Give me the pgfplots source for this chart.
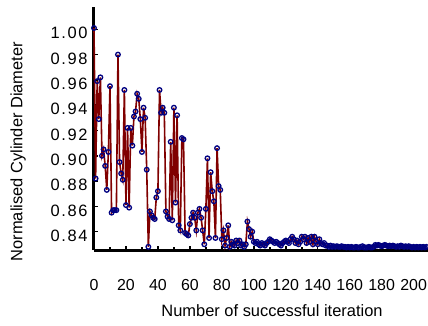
\documentclass[border=0pt]{standalone}
\usepackage{fontspec}
\setmainfont{Liberation Sans}
\usepackage{pgfplots}
\usepackage{pgfplotstable}
\pgfplotsset{compat=1.18}
\definecolor{lineRed}{RGB}{128,0,0}
\definecolor{markBlue}{RGB}{0,0,128}
\pgfplotstableread{
x y
0 1.001
1 0.882
2 0.959
3 0.929
4 0.962
5 0.900
6 0.905
7 0.892
8 0.873
9 0.903
10 0.955
11 0.855
12 0.857
13 0.857
14 0.857
15 0.980
16 0.895
17 0.886
18 0.881
19 0.952
20 0.861
21 0.922
22 0.859
23 0.922
24 0.908
25 0.931
26 0.935
27 0.949
28 0.945
29 0.929
30 0.903
31 0.938
32 0.930
33 0.889
34 0.828
35 0.856
36 0.853
37 0.851
38 0.850
39 0.867
40 0.872
41 0.952
42 0.934
43 0.938
44 0.934
45 0.856
46 0.852
47 0.850
48 0.911
49 0.849
50 0.938
51 0.863
52 0.932
53 0.845
54 0.841
55 0.914
56 0.913
57 0.839
58 0.838
59 0.837
60 0.846
61 0.851
62 0.855
63 0.851
64 0.841
65 0.855
66 0.858
67 0.851
68 0.841
69 0.830
70 0.858
71 0.898
72 0.835
73 0.887
74 0.872
75 0.864
76 0.835
77 0.906
78 0.876
79 0.873
80 0.834
81 0.841
82 0.829
83 0.835
84 0.845
85 0.828
86 0.832
87 0.830
88 0.829
89 0.833
90 0.831
91 0.833
92 0.829
93 0.830
94 0.828
95 0.830
96 0.848
97 0.842
98 0.836
99 0.840
100 0.832
101 0.831
102 0.832
103 0.830
104 0.829
105 0.831
106 0.830
107 0.829
108 0.831
109 0.832
110 0.834
111 0.833
112 0.832
113 0.831
114 0.832
115 0.831
116 0.830
117 0.829
118 0.831
119 0.832
120 0.833
121 0.832
122 0.831
123 0.834
124 0.836
125 0.834
126 0.831
127 0.833
128 0.830
129 0.832
130 0.836
131 0.834
132 0.836
133 0.831
134 0.835
135 0.832
136 0.836
137 0.830
138 0.836
139 0.832
140 0.830
141 0.834
142 0.831
143 0.830
144 0.831
145 0.829
146 0.829
147 0.828
148 0.829
149 0.828
150 0.8285
151 0.828
152 0.8285
153 0.828
154 0.828
155 0.8285
156 0.828
157 0.828
158 0.8275
159 0.828
160 0.8275
161 0.828
162 0.8275
163 0.8275
164 0.828
165 0.8275
166 0.8275
167 0.828
168 0.8285
169 0.8275
170 0.8275
171 0.8275
172 0.828
173 0.8275
174 0.8275
175 0.828
176 0.8295
177 0.829
178 0.8295
179 0.829
180 0.8285
181 0.829
182 0.8295
183 0.829
184 0.8285
185 0.829
186 0.8285
187 0.829
188 0.8285
189 0.828
190 0.8285
191 0.828
192 0.829
193 0.8285
194 0.828
195 0.8285
196 0.828
197 0.8285
198 0.828
199 0.8275
200 0.828
201 0.8275
202 0.828
203 0.8275
204 0.828
205 0.8275
206 0.828
207 0.8275
208 0.828
}\datatable
\begin{document}
\begin{tikzpicture}
\begin{axis}[
  scale only axis,
  width=334bp, height=243bp,
  xmin=0, xmax=209,
  ymin=0.8255, ymax=1.0176,
  axis x line*=bottom,
  axis y line*=left,
  axis line style={line width=3bp, black},
  xtick={0,20,...,200},
  minor xtick={10,30,...,190},
  ytick={0.84,0.86,...,1.00},
  tick align=inside,
  major tick length=4bp,
  minor tick length=3bp,
  tick style={line width=1.5bp, black},
  /pgf/number format/assume math mode=true,
  /pgf/number format/.cd, fixed, fixed zerofill, precision=2,
  /pgfplots/.cd,
  xticklabel={\pgfmathprintnumber[fixed,precision=0]{\tick}},
  xticklabel style={font=\fontsize{16}{19}\selectfont, yshift=-26bp},
  yticklabel style={font=\fontsize{16.5}{19}\selectfont\addfontfeature{LetterSpace=10}, xshift=-3bp, yshift=-4bp},
  xlabel={Number of successful iteration},
  ylabel={Normalised Cylinder Diameter},
  label style={font=\fontsize{16.5}{19}\selectfont},
  xlabel style={at={(axis description cs:0.533,-0.251)}, anchor=center},
  ylabel style={at={(axis description cs:-0.2275,0.405)}, anchor=center, rotate=0},
  clip=false,
]
\addplot[color=lineRed, line width=1.6bp, mark=o, mark size=2.3bp,
  mark options={draw=markBlue, fill=white, line width=1.3bp, solid}]
  table[x=x, y=y] {\datatable};
\end{axis}
\pgfresetboundingbox
\path (-94bp,-76bp) rectangle (334bp,250bp);
\end{tikzpicture}
\end{document}
